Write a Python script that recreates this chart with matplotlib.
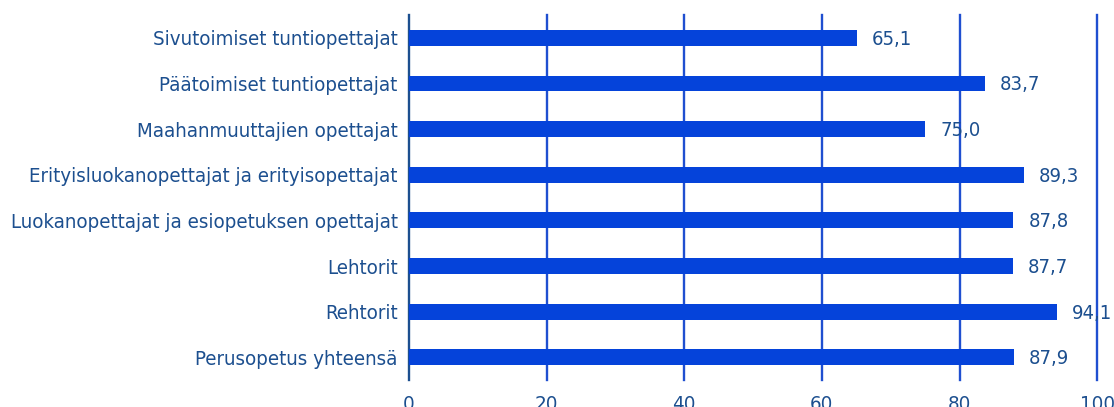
import matplotlib.pyplot as plt

categories = ["Sivutoimiset tuntiopettajat", "Päätoimiset tuntiopettajat",
              "Maahanmuuttajien opettajat", "Erityisluokanopettajat ja erityisopettajat",
              "Luokanopettajat ja esiopetuksen opettajat", "Lehtorit", "Rehtorit",
              "Perusopetus yhteensä"]
values = [65.1, 83.7, 75.0, 89.3, 87.8, 87.7, 94.1, 87.9]
xticks = [0, 20, 40, 60, 80, 100]

plt.rcParams['font.family'] = ['DejaVu Sans']
plt.rcParams['font.stretch'] = 'condensed'

bar_c = '#0543da'
text_c = '#1c4f8f'
grid_c = '#1f4fd0'

fig = plt.figure(figsize=(11.14, 4.07), dpi=100)
ax = fig.add_axes([0.367, 0.066, 0.618, 0.897])

ypos = list(range(len(categories)))
ax.barh(ypos, values, height=0.35, color=bar_c, zorder=3)
for y, v in zip(ypos, values):
    ax.text(v + 2.2, y + 0.03, f"{v:.1f}".replace('.', ','), va='center', ha='left',
            fontsize=14.5, color=text_c, zorder=4)

ax.set_xlim(0, 100)
ax.set_ylim(len(categories) - 0.5, -0.5)
ax.set_xticks(xticks)
ax.set_yticks(ypos)
ax.set_yticklabels(categories)
ax.tick_params(axis='both', length=0, labelsize=14.7, labelcolor=text_c)
ax.tick_params(axis='x', pad=11)
ax.tick_params(axis='y', pad=8)
for s in ax.spines.values():
    s.set_visible(False)
for t in xticks:
    ax.axvline(t, color=text_c if t == 0 else grid_c, lw=1.7, zorder=2, clip_on=False)

fig.savefig('out.png', dpi=100)
